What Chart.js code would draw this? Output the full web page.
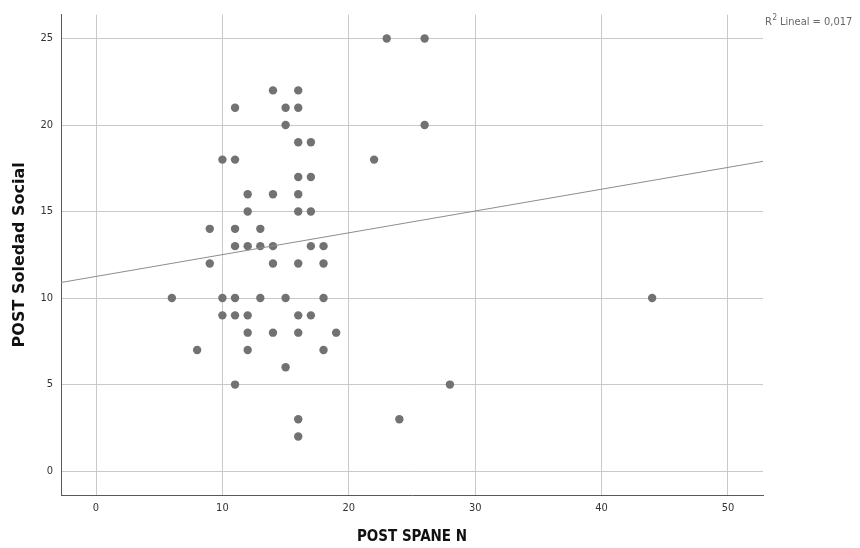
<!DOCTYPE html>
<html>
<head>
<meta charset="utf-8">
<script src="https://cdn.jsdelivr.net/npm/chart.js@4"></script>
<style>
  html, body { margin: 0; padding: 0; background: #fff; }
  #wrap { width: 860px; height: 548px; }
</style>
</head>
<body>
<div id="wrap"><canvas id="chart" width="860" height="548"></canvas></div>
<script>
// POST SPANE N (x) vs POST Soledad Social (y)
const spaneN = [
  23, 26,
  14, 16,
  11, 15, 16,
  15, 26,
  16, 17,
  10, 11, 22,
  16, 17,
  12, 14, 16,
  12, 16, 17,
  9, 11, 13,
  11, 12, 13, 14, 17, 18,
  9, 14, 16, 18,
  6, 10, 11, 13, 15, 18, 44,
  10, 11, 12, 16, 17,
  12, 14, 16, 19,
  8, 12, 18,
  15,
  11, 28,
  16, 24,
  16
];
const soledad = [
  25, 25,
  22, 22,
  21, 21, 21,
  20, 20,
  19, 19,
  18, 18, 18,
  17, 17,
  16, 16, 16,
  15, 15, 15,
  14, 14, 14,
  13, 13, 13, 13, 13, 13,
  12, 12, 12, 12,
  10, 10, 10, 10, 10, 10, 10,
  9, 9, 9, 9, 9,
  8, 8, 8, 8,
  7, 7, 7,
  6,
  5, 5,
  3, 3,
  2
];

// fit line (R2 Lineal = 0,017), ends read at the plot edges
const fitX = [-2.77, 52.77];
const fitY = [10.9, 17.9];

const xRange = [-2.77, 52.77];
const yRange = [-1.38, 26.38];
const r2Label = "0,017";

const points = spaneN.map((x, i) => ({ x: x, y: soledad[i] }));
const fitLine = fitX.map((x, i) => ({ x: x, y: fitY[i] }));

// R2 label in the right margin
const r2Plugin = {
  id: "r2label",
  afterDraw(chart) {
    const ctx = chart.ctx;
    const x0 = chart.chartArea.right + 2;
    const y0 = 25;
    ctx.save();
    ctx.fillStyle = "#666";
    ctx.textBaseline = "alphabetic";
    ctx.font = "11px 'DejaVu Sans Condensed', 'DejaVu Sans'";
    ctx.fillText("R", x0, y0);
    const w = ctx.measureText("R").width;
    ctx.font = "8px 'DejaVu Sans Condensed', 'DejaVu Sans'";
    ctx.fillText("2", x0 + w + 0.5, y0 - 5);
    ctx.font = "11px 'DejaVu Sans Condensed', 'DejaVu Sans'";
    ctx.fillText(" Lineal = " + r2Label, x0 + w + 5, y0);
    ctx.restore();
  }
};

const tickFont = { family: "'DejaVu Sans Condensed', 'DejaVu Sans'", size: 11 };

new Chart(document.getElementById("chart"), {
  type: "scatter",
  data: {
    datasets: [
      {
        label: "fit",
        type: "line",
        data: fitLine,
        borderColor: "#8c8c8c",
        borderWidth: 1,
        pointRadius: 0,
        fill: false,
        order: 0
      },
      {
        label: "POST Soledad Social",
        data: points,
        backgroundColor: "#727272",
        borderWidth: 0,
        pointRadius: 4.2,
        order: 1
      }
    ]
  },
  plugins: [r2Plugin],
  options: {
    responsive: false,
    animation: false,
    layout: { padding: { top: 13, right: 97, left: 0, bottom: 0 } },
    plugins: {
      legend: { display: false },
      tooltip: { enabled: false }
    },
    scales: {
      x: {
        type: "linear",
        min: xRange[0],
        max: xRange[1],
        afterFit(scale) { scale.height = 53; },
        ticks: {
          stepSize: 10,
          includeBounds: false,
          color: "#333",
          font: tickFont,
          padding: 7,
          maxRotation: 0
        },
        grid: { color: "#c9c9c9", lineWidth: 1, drawTicks: false },
        border: { display: true, color: "#5a5a5a", width: 1 },
        title: {
          display: true,
          text: "POST SPANE N",
          color: "#111",
          font: { family: "'DejaVu Sans Condensed', 'DejaVu Sans'", size: 15, weight: "bold" },
          padding: { top: 0, bottom: 2 }
        }
      },
      y: {
        type: "linear",
        min: yRange[0],
        max: yRange[1],
        afterFit(scale) { scale.width = 61; },
        ticks: {
          stepSize: 5,
          includeBounds: false,
          color: "#333",
          font: tickFont,
          padding: 8
        },
        grid: { color: "#c9c9c9", lineWidth: 1, drawTicks: false },
        border: { display: true, color: "#5a5a5a", width: 1 },
        title: {
          display: true,
          text: "POST Soledad Social",
          color: "#111",
          font: { family: "'DejaVu Sans', sans-serif", size: 16, weight: "bold" },
          padding: { top: 10, bottom: 0 }
        }
      }
    }
  }
});
</script>
</body>
</html>
